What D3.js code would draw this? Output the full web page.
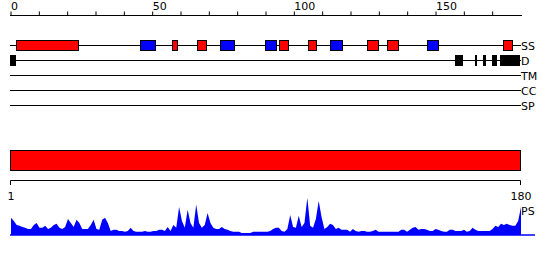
<!DOCTYPE html>
<html><head><meta charset="utf-8">
<script src="https://cdn.jsdelivr.net/npm/d3@7"></script>
<style>html,body{margin:0;padding:0;background:#fff;}svg{display:block;font-family:"DejaVu Sans",sans-serif;}</style>
</head><body><svg id="c" width="550" height="260"></svg>
<script>
// residue range
const seqLength = 180;
const topTicks = [0,10,20,30,40,50,60,70,80,90,100,110,120,130,140,150,160,170];
const topTickLabels = [0,50,100,150];
const trackNames = ["SS","D","TM","CC","SP"];
// secondary structure elements [start, end, type]
const ssStarts = [2,46,57,66,74,90,95,105,113,126,133,147,174];
const ssEnds   = [24,51,59,69,79,94,98,108,117,130,137,151,177];
const ssTypes  = ["H","E","H","H","E","E","H","H","E","H","H","E","H"];
// disorder segments
const disStarts = [0,157,164,167,170,173];
const disEnds   = [2,160,165,168,172,180];
// bottom domain bar
const domainStart = 0, domainEnd = 180;
const bottomLabels = ["1","180"];
// PS per-residue score (1..180)
const psScores = [
.43,.35,.25,.23,.20,.18,.15,.15,.25,.30,.18,.18,.23,.15,.18,.25,.28,.18,.15,.20,
.40,.30,.20,.38,.30,.15,.15,.15,.25,.38,.15,.13,.38,.43,.30,.10,.13,.13,.10,.10,
.08,.10,.18,.10,.08,.08,.08,.10,.08,.08,.10,.10,.13,.13,.10,.20,.10,.25,.18,.70,
.35,.18,.63,.30,.18,.76,.30,.18,.25,.55,.30,.18,.15,.15,.20,.15,.13,.10,.08,.08,
.08,.05,.05,.05,.05,.08,.08,.08,.08,.08,.08,.10,.15,.18,.18,.10,.08,.15,.50,.20,
.18,.48,.20,.30,.93,.23,.18,.40,.85,.45,.15,.20,.28,.25,.15,.18,.13,.13,.13,.08,
.15,.10,.08,.10,.10,.08,.08,.10,.13,.08,.08,.08,.08,.08,.08,.08,.08,.13,.13,.08,
.13,.18,.20,.13,.15,.15,.13,.10,.10,.15,.13,.10,.08,.08,.13,.13,.10,.10,.10,.13,
.08,.10,.18,.13,.10,.10,.10,.10,.10,.15,.23,.20,.28,.25,.28,.25,.23,.23,.35,.70];

const svg = d3.select("#c");
const x = d3.scaleLinear().domain([0, seqLength]).range([10, 520]);
const colorOf = {H:"#ff0000", E:"#0000ff"};

// top axis
const axTop = d3.axisTop(x).tickValues(topTicks).tickSize(4).tickSizeOuter(0)
  .tickFormat(d => topTickLabels.includes(d) ? d : "");
const gTop = svg.append("g").attr("transform","translate(0.5,15.5)").call(axTop);
gTop.select(".domain").attr("d","M0,0H512").attr("transform","translate(9.5,0)").attr("stroke","#000");
gTop.selectAll(".tick line").attr("stroke","#000");
gTop.selectAll(".tick text").attr("text-anchor","start").attr("x",0).attr("y",-6)
  .attr("font-size","11px").attr("font-family","DejaVu Sans").attr("fill","#000");

// tracks
const trackY = d3.scalePoint().domain(trackNames).range([45,105]);
trackNames.forEach(n=>{
  const y = trackY(n)+0.5;
  svg.append("line").attr("x1",10).attr("x2",521).attr("y1",y).attr("y2",y).attr("stroke","#000");
  svg.append("text").attr("x",521).attr("y",trackY(n)+4.5).attr("font-size","11px").text(n);
});
svg.selectAll("rect.ss").data(ssStarts).enter().append("rect")
  .attr("x",(d)=>Math.round(x(d))+0.5).attr("width",(d,i)=>Math.round(x(ssEnds[i]))-Math.round(x(d)))
  .attr("y",trackY("SS")-4.5).attr("height",10)
  .attr("fill",(d,i)=>colorOf[ssTypes[i]]).attr("stroke","#000");
svg.selectAll("rect.dis").data(disStarts).enter().append("rect")
  .attr("x",(d)=>Math.round(x(d))).attr("width",(d,i)=>Math.round(x(disEnds[i]))-Math.round(x(d)))
  .attr("y",trackY("D")-5).attr("height",11).attr("fill","#000");

// domain bar
svg.append("rect").attr("x",x(domainStart)+0.5).attr("width",x(domainEnd)-x(domainStart))
  .attr("y",150.5).attr("height",20).attr("fill","#ff0000").attr("stroke","#000");

// bottom axis
const xr = d3.scaleLinear().domain([1, seqLength]).range([11, 521]);
svg.append("path").attr("d",`M10.5,185V180.5H520.5V185`).attr("fill","none").attr("stroke","#000");
svg.append("text").attr("x",xr(1)).attr("y",200).attr("text-anchor","middle").attr("font-size","11px").text(bottomLabels[0]);
svg.append("text").attr("x",xr(seqLength)).attr("y",200).attr("text-anchor","middle").attr("font-size","11px").text(bottomLabels[1]);

// PS area
const yps = d3.scaleLinear().domain([0,1]).range([235,195]);
const area = d3.area().x((d,i)=>xr(i+1)).y0(235).y1(d=>yps(d));
svg.append("path").datum(psScores).attr("d",area).attr("fill","#0000ff");
svg.append("line").attr("x1",10).attr("x2",535).attr("y1",235).attr("y2",235).attr("stroke","#0000ff").attr("stroke-width",1.5);
svg.append("text").attr("x",521).attr("y",215).attr("font-size","11px").text("PS");
</script></body></html>
